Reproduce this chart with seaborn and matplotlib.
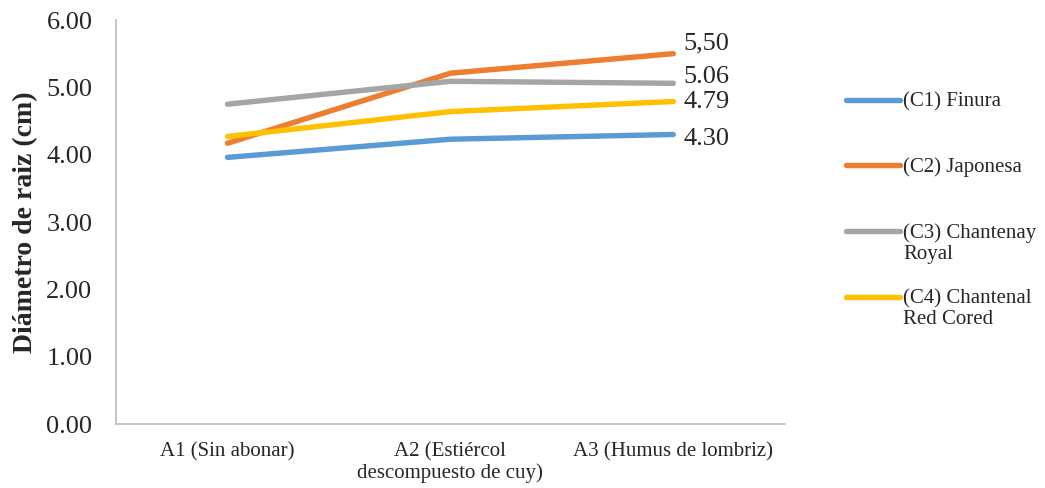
import matplotlib
matplotlib.use("Agg")
import matplotlib.pyplot as plt
from matplotlib.lines import Line2D
import pandas as pd
import seaborn as sns

# --- datos ---
abonos = ["A1 (Sin abonar)", "A2 (Estiércol\ndescompuesto de cuy)", "A3 (Humus de lombriz)"]
series = ["(C1) Finura", "(C2) Japonesa", "(C3) Chantenay\nRoyal", "(C4) Chantenal\nRed Cored"]
c1_finura = [3.96, 4.23, 4.30]
c2_japonesa = [4.17, 5.21, 5.50]
c3_chantenay = [4.75, 5.09, 5.06]
c4_chantenal = [4.27, 4.64, 4.79]
etiquetas_final = ["4.30", "5,50", "5.06", "4.79"]
colores = ["#5B9BD5", "#ED7D31", "#A5A5A5", "#FFC000"]

valores = [c1_finura, c2_japonesa, c3_chantenay, c4_chantenal]
df = pd.DataFrame(
    [(abono, s, v) for s, vals in zip(series, valores) for abono, v in zip(abonos, vals)],
    columns=["abono", "cultivar", "diametro"],
)

sns.set_style("white")
plt.rcParams["font.family"] = ["Liberation Serif", "DejaVu Serif"]

fig = plt.figure(figsize=(10.45, 4.88), dpi=100)
ax = fig.add_axes([0.111, 0.131, 0.64, 0.828])

sns.lineplot(data=df, x="abono", y="diametro", hue="cultivar", palette=colores,
             hue_order=series, linewidth=3.9, legend=False, ax=ax,
             solid_capstyle="round")

ax.set_xlim(-0.5, 2.5)
ax.set_ylim(0, 6)
ax.set_yticks(range(7))
ax.set_yticklabels([f"{v:.2f}" for v in range(7)], fontsize=19)
ax.set_xticks(range(3))
ax.set_xticklabels(abonos, fontsize=15, linespacing=1.15)
ax.tick_params(axis="x", length=0, pad=13)
ax.tick_params(axis="y", length=0, pad=17)
ax.set_xlabel("")
ax.set_ylabel("Diámetro de raiz (cm)", fontsize=20, fontweight="bold", labelpad=6)

for lado in ["top", "right"]:
    ax.spines[lado].set_visible(False)
for lado in ["left", "bottom"]:
    ax.spines[lado].set_color("#BFBFBF")
    ax.spines[lado].set_linewidth(1.3)

# etiquetas del ultimo punto
desplaz = [-5, 10, 6, -1]
for vals, txt, dy in zip(valores, etiquetas_final, desplaz):
    ax.annotate(txt, xy=(2, vals[-1]), xytext=(10, dy), textcoords="offset pixels",
                fontsize=19, va="center", ha="left")

# leyenda a la derecha
W, H = 1045, 488
ys = [100, 165, 231, 297]
for s, c, y in zip(series, colores, ys):
    fig.add_artist(Line2D([846 / W, 900 / W], [1 - y / H, 1 - y / H],
                          color=c, linewidth=3.9, solid_capstyle="round"))
    fig.text(903 / W, 1 - (y - 8) / H, s, fontsize=15, va="top", ha="left",
             linespacing=1.15)

fig.savefig("out.png", dpi=100)
